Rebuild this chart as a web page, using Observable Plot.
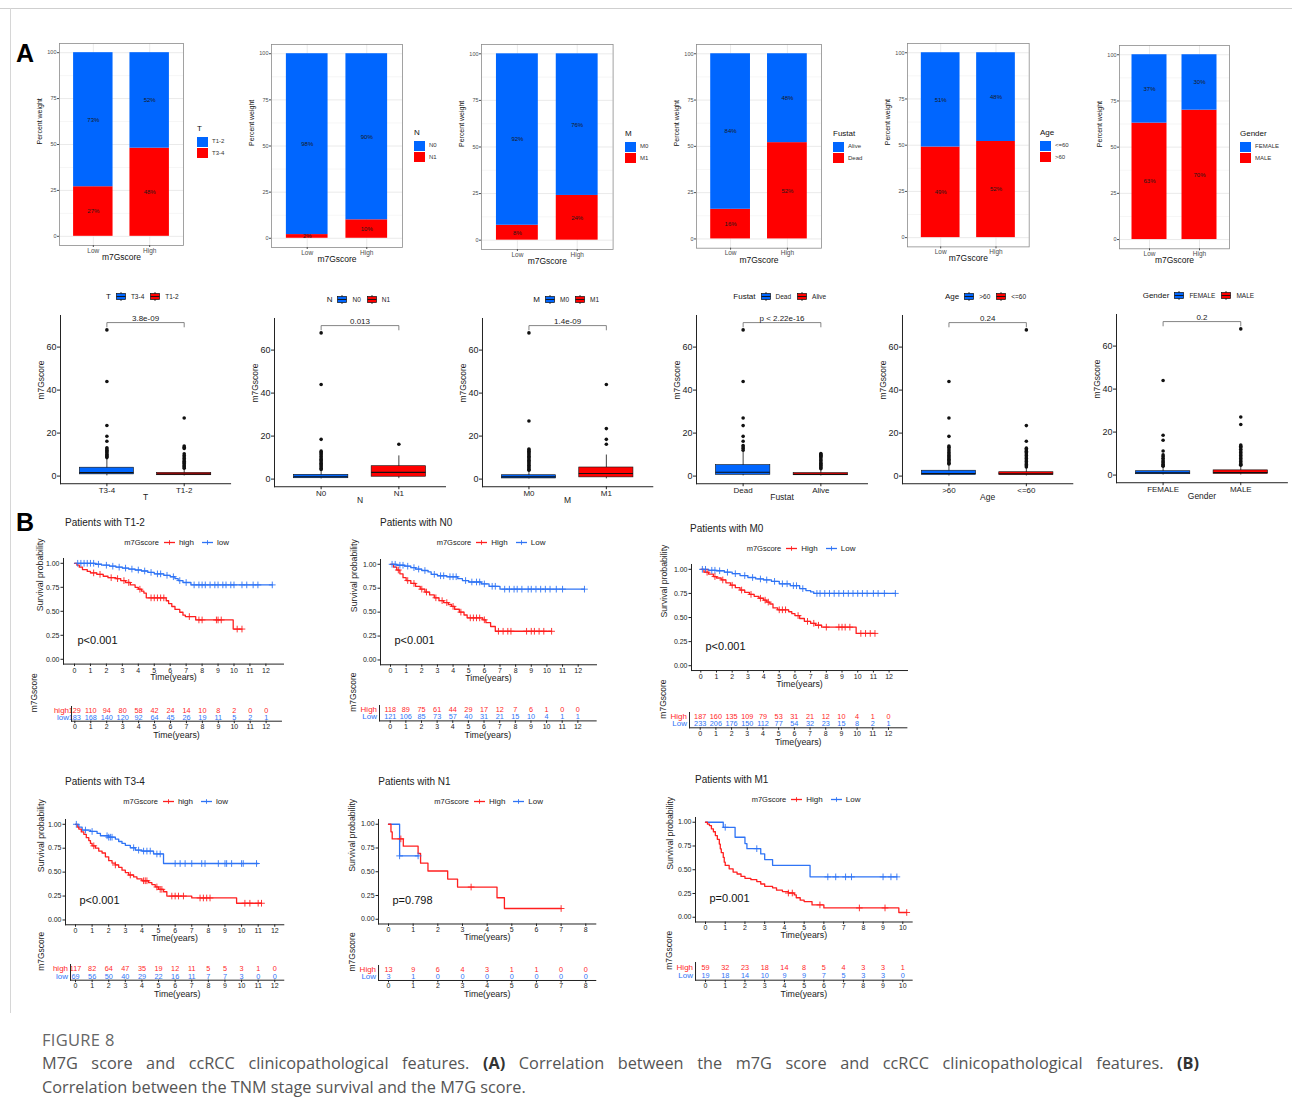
<!DOCTYPE html>
<html><head><meta charset="utf-8">
<script src="https://cdn.jsdelivr.net/npm/d3@7"></script>
<script src="https://cdn.jsdelivr.net/npm/@observablehq/plot@0.6"></script>
<style>
html,body{margin:0;padding:0;background:#fff;}
#page{position:relative;width:1292px;height:1120px;overflow:hidden;font-family:'Liberation Sans',Arial,sans-serif;color:#222;}
.abs{position:absolute;}
.abs svg{display:block;overflow:visible;}
.lg{position:absolute;display:flex;align-items:center;white-space:nowrap;height:12px;}
</style></head><body><div id="page"></div><script>
// ================= DATA =================
// Panel A, row 1: stacked percentage bars
const barGroups = ["Low", "High"];
const featNames = ["T", "N", "M", "Fustat", "Age", "Gender"];
const blueLevels = ["T1-2", "N0", "M0", "Alive", "<=60", "FEMALE"];
const redLevels = ["T3-4", "N1", "M1", "Dead", ">60", "MALE"];
const redPctLow = [27, 2, 8, 16, 49, 63];
const redPctHigh = [48, 10, 24, 52, 52, 70];
const bluePctLow = [73, 98, 92, 84, 51, 37];
const bluePctHigh = [52, 90, 76, 48, 48, 30];
const pctTicks = [0, 25, 50, 75, 100];
const pctMinor = [12.5, 37.5, 62.5, 87.5];

// Panel A, row 2: box plots of m7Gscore
const boxCats = [["T3-4", "T1-2"], ["N0", "N1"], ["M0", "M1"], ["Dead", "Alive"], [">60", "<=60"], ["FEMALE", "MALE"]];
const boxPvals = ["3.8e-09", "0.013", "1.4e-09", "p < 2.22e-16", "0.24", "0.2"];
const scoreTicks = [0, 20, 40, 60];
// [lower whisker, Q1, median, Q3, upper whisker] for [blue group, red group]
const statsT = [[0.1, 0.8, 1.6, 3.9, 8.2], [0.05, 0.4, 0.9, 1.5, 3.2]];
const statsN = [[0.05, 0.4, 1.1, 2.0, 4.2], [0.2, 1.1, 3.1, 6.0, 10.8]];
const statsM = [[0.05, 0.3, 1.0, 1.8, 3.8], [0.1, 0.8, 2.6, 5.4, 11.2]];
const statsFustat = [[0.1, 0.6, 1.8, 5.1, 11.5], [0.05, 0.4, 0.8, 1.4, 3.0]];
const statsAge = [[0.05, 0.5, 1.2, 2.5, 5.2], [0.05, 0.5, 1.0, 1.8, 3.6]];
const statsGender = [[0.05, 0.4, 1.0, 1.8, 3.8], [0.05, 0.5, 1.2, 2.2, 4.2]];
const outT = [[68, 44, 23.5, 18.5, 16.2, 13.2, 12.6, 12, 11.4, 10.8, 10.2, 9.6, 9.1, 8.6], [27, 14, 13.4, 12.8, 10.4, 9.6, 8.9, 8.2, 7.5, 6.9, 6.3, 5.8, 5.2, 4.7, 4.2, 3.7]];
const outN = [[68, 44, 18.5, 13, 12.4, 11.8, 11.2, 10.5, 9.8, 9.2, 8.6, 8, 7.4, 6.8, 6.2, 5.6, 5, 4.5], [16.2]];
const outM = [[68, 27, 14, 13.5, 13, 12.4, 11.8, 11.2, 10.6, 10, 9.4, 8.8, 8.2, 7.6, 7, 6.4, 5.8, 5.2, 4.6, 4.1], [44, 23.5, 18.5, 16.2]];
const outFustat = [[68, 44, 27, 23.5, 18.5, 16.2, 14.2, 13.5, 12.8, 12], [10.5, 10.1, 9.7, 9.2, 8.6, 7.9, 7.3, 6.6, 6, 5.4, 4.9, 4.4, 3.9, 3.4]];
const outAge = [[44, 27, 18.5, 14, 13.4, 12.6, 11.8, 11, 10.3, 9.6, 9, 8.4, 7.8, 7.2, 6.6, 6, 5.6], [68, 23.5, 16.2, 13, 12.3, 11.6, 11, 10.3, 9.6, 8.9, 8.2, 7.5, 6.8, 6.1, 5.4, 4.8, 4.2]];
const outGender = [[44, 18.5, 16.2, 11.2, 9.4, 8.6, 7.8, 7, 6.3, 5.7, 5.1, 4.5, 4.1], [68, 27, 23.5, 14, 13.4, 12.8, 12, 11.2, 10.5, 9.8, 9.1, 8.4, 7.7, 7, 6.3, 5.6, 5, 4.6]];
const boxStats = [statsT, statsN, statsM, statsFustat, statsAge, statsGender];
const boxOut = [outT, outN, outM, outFustat, outAge, outGender];

// Panel B: Kaplan-Meier curves, [time (years), survival] step points
const kmTitles = ["Patients with T1-2", "Patients with N0", "Patients with M0", "Patients with T3-4", "Patients with N1", "Patients with M1"];
const kmGroups = [["high", "low"], ["High", "Low"], ["High", "Low"], ["high", "low"], ["High", "Low"], ["High", "Low"]];
const kmPvals = ["p<0.001", "p<0.001", "p<0.001", "p<0.001", "p=0.798", "p=0.001"];
const kmTickMax = [12, 12, 12, 12, 8, 10];
const survTicks = [0, 0.25, 0.5, 0.75, 1];

const kmT12High = [[0,1],[0.15,0.98],[0.3,0.96],[0.5,0.935],[0.8,0.915],[1.0,0.9],[1.4,0.885],[1.8,0.865],[2.1,0.85],[2.6,0.84],[2.9,0.82],[3.2,0.80],[3.5,0.775],[3.8,0.75],[4.0,0.73],[4.2,0.71],[4.35,0.69],[4.5,0.64],[5.75,0.61],[5.9,0.58],[6.1,0.55],[6.3,0.52],[6.6,0.49],[6.8,0.46],[6.95,0.445],[7.6,0.41],[9.95,0.315],[10.5,0.315]];
const kmT12Low = [[0,1],[1.3,0.99],[1.7,0.98],[2.2,0.97],[2.6,0.96],[3.0,0.95],[3.4,0.94],[3.8,0.93],[4.2,0.92],[4.6,0.905],[5.0,0.89],[5.6,0.875],[6.0,0.86],[6.3,0.84],[6.5,0.82],[6.8,0.8],[7.3,0.775],[12.4,0.775]];
const cenT12High = [1.2,1.6,2.3,2.7,3.1,3.4,4.1,4.8,5.0,5.2,5.4,5.6,7.2,7.8,8.0,8.9,9.0,9.2,10.2,10.5];
const cenT12Low = [0.2,0.4,0.6,0.8,1.0,1.2,1.5,2.0,2.4,2.8,3.2,3.6,4.0,4.4,4.8,5.2,5.4,5.8,6.2,6.6,7.0,7.5,7.8,8.0,8.2,8.5,8.8,9.0,9.3,9.5,9.8,10.0,10.5,10.8,11.2,11.5,12.4];

const kmN0High = [[0,1],[0.2,0.97],[0.4,0.94],[0.6,0.90],[0.8,0.86],[1.0,0.83],[1.3,0.8],[1.6,0.77],[1.9,0.74],[2.2,0.71],[2.5,0.68],[2.8,0.65],[3.1,0.62],[3.4,0.6],[3.7,0.58],[3.9,0.56],[4.1,0.53],[4.4,0.5],[4.7,0.47],[4.9,0.44],[5.9,0.42],[6.1,0.39],[6.4,0.35],[6.7,0.30],[10.3,0.30]];
const kmN0Low = [[0,1],[0.4,0.99],[0.9,0.98],[1.3,0.965],[1.6,0.95],[2.0,0.935],[2.4,0.92],[2.6,0.895],[3.0,0.88],[3.6,0.87],[4.3,0.85],[4.6,0.83],[5.0,0.815],[5.8,0.795],[6.3,0.77],[7.0,0.74],[12.4,0.74]];
const cenN0High = [0.5,1.1,1.5,2.0,2.3,2.9,3.3,3.6,4.0,4.5,5.1,5.3,5.5,5.7,6.0,6.9,7.2,7.5,7.7,8.7,9.0,9.2,9.5,9.8,10.3];
const cenN0Low = [0.1,0.3,0.6,0.8,1.1,1.5,1.8,2.2,2.8,3.2,3.4,3.8,4.0,4.2,4.8,5.2,5.5,5.7,6.0,6.5,6.7,7.3,7.6,7.9,8.1,8.4,8.8,9.0,9.3,9.6,9.9,10.2,10.6,11.0,12.4];

const kmM0High = [[0,1],[0.2,0.97],[0.5,0.95],[0.8,0.925],[1.0,0.91],[1.3,0.89],[1.6,0.86],[1.9,0.835],[2.2,0.81],[2.5,0.785],[2.8,0.76],[3.1,0.74],[3.4,0.72],[3.7,0.70],[4.0,0.68],[4.2,0.66],[4.4,0.64],[4.6,0.60],[4.9,0.58],[5.6,0.56],[5.8,0.54],[6.0,0.52],[6.3,0.49],[6.6,0.46],[7.0,0.44],[7.3,0.42],[7.7,0.40],[9.9,0.335],[11.1,0.335]];
const kmM0Low = [[0,1],[0.5,0.99],[1.0,0.985],[1.5,0.97],[2.0,0.955],[2.5,0.935],[3.0,0.915],[3.5,0.9],[4.0,0.89],[4.5,0.875],[5.0,0.85],[5.7,0.83],[6.3,0.8],[6.7,0.78],[7.0,0.765],[7.2,0.75],[12.4,0.75]];
const cenM0High = [0.4,0.9,1.4,2.0,2.6,3.2,3.8,4.1,4.3,5.0,5.2,5.4,6.2,6.8,7.2,7.5,8.0,8.8,9.0,9.2,9.5,10.2,10.5,10.8,11.1];
const cenM0Low = [0.1,0.3,0.7,0.9,1.2,1.7,2.2,2.8,3.3,3.8,4.2,4.7,5.2,5.5,5.9,6.1,6.5,7.4,7.6,7.9,8.2,8.5,8.8,9.1,9.4,9.7,10.0,10.3,10.6,11.0,11.3,11.7,12.4];

const kmT34High = [[0,1],[0.1,0.97],[0.2,0.95],[0.35,0.92],[0.5,0.895],[0.65,0.86],[0.8,0.83],[0.9,0.8],[1.0,0.775],[1.2,0.75],[1.4,0.72],[1.6,0.70],[1.8,0.66],[2.0,0.62],[2.2,0.595],[2.4,0.575],[2.6,0.55],[2.8,0.52],[3.0,0.495],[3.2,0.47],[3.5,0.45],[3.7,0.43],[4.0,0.41],[4.4,0.39],[4.6,0.37],[4.8,0.345],[5.0,0.32],[5.3,0.295],[5.5,0.25],[7.0,0.23],[9.7,0.175],[11.2,0.175]];
const kmT34Low = [[0,1],[0.2,0.97],[0.4,0.94],[0.9,0.925],[1.3,0.905],[1.5,0.88],[2.0,0.865],[2.4,0.845],[2.6,0.82],[2.8,0.80],[3.0,0.78],[3.3,0.755],[3.6,0.73],[4.0,0.72],[4.7,0.69],[5.3,0.59],[11.0,0.59]];
const cenT34High = [1.1,2.4,3.3,4.1,4.2,4.3,4.9,5.1,5.2,5.8,6.0,6.2,6.5,7.5,7.7,7.9,8.1,10.2,10.5,11.0,11.2];
const cenT34Low = [0.05,0.6,1.0,1.9,2.0,2.1,2.2,3.5,3.8,4.1,4.3,4.5,4.9,5.1,6.0,6.3,6.6,7.0,7.6,7.8,8.6,9.0,9.1,9.4,10.0,10.1,10.9];

const kmN1High = [[0,1],[0.1,0.92],[0.15,0.846],[0.6,0.769],[1.2,0.692],[1.3,0.59],[1.6,0.508],[2.4,0.423],[2.8,0.339],[4.4,0.226],[4.7,0.113],[7.0,0.113]];
const kmN1Low = [[0,1],[0.45,0.667],[1.2,0.667]];
const cenN1High = [0.5,3.35,7.0];
const cenN1Low = [0.45,1.2];

const kmM1High = [[0,1],[0.1,0.98],[0.2,0.965],[0.3,0.93],[0.4,0.9],[0.5,0.86],[0.6,0.82],[0.7,0.77],[0.75,0.72],[0.8,0.68],[0.9,0.63],[0.95,0.58],[1.0,0.545],[1.2,0.51],[1.4,0.475],[1.6,0.455],[1.8,0.43],[2.0,0.41],[2.3,0.395],[2.6,0.375],[2.8,0.35],[3.0,0.325],[3.4,0.31],[3.6,0.285],[3.9,0.27],[4.2,0.255],[4.5,0.235],[4.6,0.205],[4.8,0.18],[5.0,0.165],[5.4,0.13],[6.0,0.098],[9.8,0.05],[10.2,0.05]];
const kmM1Low = [[0,1],[0.9,0.947],[1.5,0.842],[2.0,0.776],[2.1,0.722],[2.8,0.667],[3.0,0.607],[3.4,0.546],[5.3,0.425],[9.7,0.425]];
const cenM1High = [4.2,4.4,5.8,7.8,9.1,10.2];
const cenM1Low = [1.0,2.6,6.2,6.6,7.1,7.4,9.0,9.4,9.7];

const kmHigh = [kmT12High, kmN0High, kmM0High, kmT34High, kmN1High, kmM1High];
const kmLow = [kmT12Low, kmN0Low, kmM0Low, kmT34Low, kmN1Low, kmM1Low];
const cenHigh = [cenT12High, cenN0High, cenM0High, cenT34High, cenN1High, cenM1High];
const cenLow = [cenT12Low, cenN0Low, cenM0Low, cenT34Low, cenN1Low, cenM1Low];

// numbers at risk (t = 0, 1, 2, ...)
const riskT12High = [129,110,94,80,58,42,24,14,10,8,2,0,0];
const riskT12Low = [183,168,140,120,92,64,45,26,19,11,5,2,1];
const riskN0High = [118,89,75,61,44,29,17,12,7,6,1,0,0];
const riskN0Low = [121,106,85,73,57,40,31,21,15,10,4,1,1];
const riskM0High = [187,160,135,109,79,53,31,21,12,10,4,1,0];
const riskM0Low = [233,206,176,150,112,77,54,32,23,15,8,2,1];
const riskT34High = [117,82,64,47,35,19,12,11,5,5,3,1,0];
const riskT34Low = [69,56,50,40,29,22,16,11,7,7,3,0,0];
const riskN1High = [13,9,6,4,3,1,1,0,0];
const riskN1Low = [3,1,0,0,0,0,0,0,0];
const riskM1High = [59,32,23,18,14,8,5,4,3,3,1];
const riskM1Low = [19,18,14,10,9,9,7,5,3,3,0];
const riskHigh = [riskT12High, riskN0High, riskM0High, riskT34High, riskN1High, riskM1High];
const riskLow = [riskT12Low, riskN0Low, riskM0Low, riskT34Low, riskN1Low, riskM1Low];

// ================= STYLE / LAYOUT =================
const RED = "#ff0000", BLUE = "#0066ff";
const KRED = "#ff1f1f", KBLUE = "#2f74f5";
const FONT = "'Liberation Sans', Arial, sans-serif";
const page = document.getElementById("page");

const barLay = [
  {L:59, R:183, T:43, B:245, lx:197, ly:129},
  {L:271, R:402, T:44, B:247, lx:414, ly:133},
  {L:481, R:612.6, T:44, B:249, lx:625, ly:134},
  {L:696, R:821, T:44, B:247.7, lx:833, ly:134},
  {L:906.8, R:1028.5, T:43.3, B:246.7, lx:1040, ly:133},
  {L:1118.6, R:1228.6, T:45, B:248.3, lx:1240, ly:134}
];
const boxLay = [
  {L:59.6, R:229.7, y0:475.7, gx:106, gy:296},
  {L:274, R:445, y0:479, gx:326.7, gy:299},
  {L:481.9, R:652.2, y0:479, gx:533.3, gy:299},
  {L:696, R:867, y0:476, gx:733.3, gy:296},
  {L:901.9, R:1072.2, y0:476, gx:945, gy:296},
  {L:1115.7, R:1286.6, y0:475, gx:1142.7, gy:295}
];
const kmLay = [
  {px0:74.3, pxT:265.7, L:63.3, R:283.3, y1:563, y0:659, tl:71, tr:281, rHigh:710, rLow:716.7, rAxis:720.7, tx:65, ty:523.3, lgx:124.3, lgy:542.3, survX:40, tabX:33.3},
  {px0:390, pxT:577.7, L:380, R:596, y1:563.3, y0:659, tl:379.3, tr:596, rHigh:709.3, rLow:716.7, rAxis:720.7, tx:380, ty:523.3, lgx:436.7, lgy:542, survX:353.3, tabX:353.3},
  {px0:700, pxT:888.3, L:690.7, R:906.7, y1:569.3, y0:665.7, tl:689.3, tr:906.7, rHigh:716, rLow:723.3, rAxis:727.3, tx:690, ty:529, lgx:746.7, lgy:548, survX:663.3, tabX:663.3},
  {px0:75, pxT:274.3, L:65, R:283.3, y1:823.3, y0:919, tl:70, tr:283.3, rHigh:968.3, rLow:976, rAxis:980, tx:65, ty:782.3, lgx:123.3, lgy:801.7, survX:40.7, tabX:40.7},
  {px0:387.7, pxT:585, L:377.7, R:595, y1:823.3, y0:918.3, tl:377.7, tr:595, rHigh:969, rLow:976, rAxis:980, tx:378.3, ty:782.3, lgx:434.3, lgy:801.7, survX:351.7, tabX:351.7},
  {px0:705, pxT:902.3, L:695, R:911.7, y1:821.7, y0:916.7, tl:695, tr:911.7, rHigh:967.3, rLow:975, rAxis:980, tx:695, ty:780, lgx:751.7, lgy:799.3, survX:669.3, tabX:668.3}
];

function mount(svg, left, top) {
  const d = document.createElement("div");
  d.className = "abs";
  d.style.left = left + "px"; d.style.top = top + "px";
  d.style.width = svg.getAttribute("width") + "px";
  d.appendChild(svg); page.appendChild(d);
}
function txt(s, left, yc, fs, extra = {}) {
  const d = document.createElement("div");
  d.className = "abs"; d.textContent = s;
  Object.assign(d.style, {left: left + "px", top: (yc - fs * 0.6) + "px", fontSize: fs + "px", lineHeight: (fs * 1.2) + "px", whiteSpace: "nowrap"}, extra);
  page.appendChild(d); return d;
}
const st = (extra) => Object.assign({fontFamily: FONT, background: "transparent", overflow: "visible", color: "#222"}, extra || {});

// ================= PANEL A: BARS =================
barLay.forEach((lay, i) => {
  const data = [
    {g: "Low", c: "r", pct: redPctLow[i]}, {g: "High", c: "r", pct: redPctHigh[i]},
    {g: "Low", c: "b", pct: bluePctLow[i]}, {g: "High", c: "b", pct: bluePctHigh[i]}
  ];
  const mL = 40, mR = 4, mT = 4, mB = 26;
  const svg = Plot.plot({
    width: lay.R - lay.L + mL + mR, height: lay.B - lay.T + mT + mB,
    marginLeft: mL, marginRight: mR, marginTop: mT, marginBottom: mB,
    style: st({color: "#4d4d4d"}),
    x: {type: "band", domain: barGroups, paddingInner: 0.3, paddingOuter: 0.25, round: false},
    y: {domain: [-5, 105]},
    color: {type: "identity"},
    marks: [
      Plot.ruleY(pctMinor, {stroke: "#ededed", strokeWidth: 0.5}),
      Plot.ruleY(pctTicks, {stroke: "#e8e8e8", strokeWidth: 0.9}),
      Plot.ruleX(barGroups, {stroke: "#e8e8e8", strokeWidth: 0.9}),
      Plot.barY(data, {x: "g", y: "pct", z: "c", fill: d => d.c === "r" ? RED : BLUE}),
      Plot.text(data, Plot.stackY({x: "g", y: "pct", z: "c", text: d => d.pct + "%", fontSize: 6, fill: "#1a1a1a"})),
      Plot.frame({stroke: "#8c8c8c", strokeWidth: 0.8}),
      Plot.axisY(pctTicks, {tickSize: 2, tickPadding: 1, fontSize: 5.5, label: null}),
      Plot.axisX({tickSize: 2, tickPadding: 0.5, fontSize: 6.5, label: null}),
      Plot.text(["Percent weight"], {frameAnchor: "left", rotate: -90, dx: -20, fontSize: 7, fill: "#111", text: d => d}),
      Plot.text(["m7Gscore"], {frameAnchor: "bottom", dy: 14.5, fontSize: 8.5, fill: "#111", text: d => d})
    ]
  });
  mount(svg, lay.L - mL, lay.T - mT);
  // legend
  txt(featNames[i], lay.lx, lay.ly, 8, {color: "#111"});
  [[BLUE, blueLevels[i]], [RED, redLevels[i]]].forEach(([c, lab], j) => {
    const k = document.createElement("div");
    k.className = "abs";
    Object.assign(k.style, {left: lay.lx + "px", top: (lay.ly + 8 + j * 11.3) + "px", width: "11px", height: "10px", background: c});
    page.appendChild(k);
    txt(lab, lay.lx + 15, lay.ly + 13 + j * 11.3, 6, {color: "#333"});
  });
});

// ================= PANEL A: BOXES =================
function boxKey(color) {
  return `<svg width="10" height="9" style="display:block"><line x1="5" y1="0" x2="5" y2="9" stroke="#111" stroke-width="0.8"/><rect x="0.5" y="1.5" width="9" height="6" fill="${color}" stroke="#111" stroke-width="0.7"/><line x1="0.5" y1="4.5" x2="9.5" y2="4.5" stroke="#111" stroke-width="0.9"/></svg>`;
}
boxLay.forEach((lay, i) => {
  const cats = boxCats[i];
  const rows = cats.map((c, j) => ({cat: c, lo: boxStats[i][j][0], q1: boxStats[i][j][1], med: boxStats[i][j][2], q3: boxStats[i][j][3], hi: boxStats[i][j][4], col: j === 0 ? BLUE : RED}));
  const outs = [];
  boxOut[i].forEach((arr, j) => arr.forEach(v => outs.push({cat: cats[j], v})));
  const allMax = d3.max(boxOut.flat(2));
  const yBr = allMax * 1.05, yTip = yBr - 2;
  const bracket = [{cat: cats[0], v: yTip}, {cat: cats[0], v: yBr}, {cat: cats[1], v: yBr}, {cat: cats[1], v: yTip}];
  const k = 2.15, yDom = [-3.55, 74.7];
  const top = lay.y0 - yDom[1] * k, bottom = lay.y0 - yDom[0] * k;
  const mL = 40, mR = 6, mT = 6, mB = 24;
  const svg = Plot.plot({
    width: lay.R - lay.L + mL + mR, height: bottom - top + mT + mB,
    marginLeft: mL, marginRight: mR, marginTop: mT, marginBottom: mB,
    style: st(),
    x: {type: "band", domain: cats, paddingInner: 0.3, paddingOuter: 0.25, round: false},
    y: {domain: yDom},
    color: {type: "identity"},
    marks: [
      Plot.ruleX(rows, {x: "cat", y1: "lo", y2: "hi", stroke: "#111", strokeWidth: 0.8}),
      Plot.barY(rows, {x: "cat", y1: "q1", y2: "q3", fill: "col", stroke: "#111", strokeWidth: 0.6}),
      Plot.tickY(rows, {x: "cat", y: "med", stroke: "#111", strokeWidth: 1.2}),
      Plot.dot(outs, {x: "cat", y: "v", r: 1.8, fill: "#111"}),
      Plot.line(bracket, {x: "cat", y: "v", stroke: "#666", strokeWidth: 0.8}),
      Plot.text([boxPvals[i]], {frameAnchor: "middle", y: () => yBr, dy: -4.5, fontSize: 8, fill: "#222", text: d => d}),
      Plot.frame({anchor: "left", stroke: "#222", strokeWidth: 1}),
      Plot.frame({anchor: "bottom", stroke: "#222", strokeWidth: 1}),
      Plot.axisY(scoreTicks, {tickSize: 3, tickPadding: 1, fontSize: 9, label: null}),
      Plot.axisX({tickSize: 3, tickPadding: 0.5, fontSize: 8, label: null}),
      Plot.text([featNames[i]], {frameAnchor: "bottom", dy: 16.7, fontSize: 8.5, fill: "#222", text: d => d}),
      Plot.text(["m7Gscore"], {frameAnchor: "left", rotate: -90, dx: -19.5, fontSize: 8.5, fill: "#222", text: d => d})
    ]
  });
  mount(svg, lay.L - mL, top - mT);
  // legend
  const lg = document.createElement("div");
  lg.className = "lg";
  lg.style.left = lay.gx + "px"; lg.style.top = (lay.gy - 6) + "px";
  lg.innerHTML = `<span style="font-size:8px;color:#111">${featNames[i]}</span>` +
    `<span style="margin-left:5px">${boxKey(BLUE)}</span><span style="margin-left:5px;font-size:6.5px;color:#222">${cats[0].replace("<", "&lt;").replace(">", "&gt;")}</span>` +
    `<span style="margin-left:6px">${boxKey(RED)}</span><span style="margin-left:5px;font-size:6.5px;color:#222">${cats[1].replace("<", "&lt;").replace(">", "&gt;")}</span>`;
  page.appendChild(lg);
});

// ================= PANEL B: KM =================
function stepAt(pts, t) { let s = pts[0][1]; for (const p of pts) if (p[0] <= t) s = p[1]; return s; }
function kmSwatch(c) {
  return `<svg width="11" height="7" style="display:block"><line x1="0" y1="3.5" x2="11" y2="3.5" stroke="${c}" stroke-width="1.3"/><path d="M5.5 1.2V5.8M3.2 3.5H7.8" stroke="${c}" stroke-width="0.9"/></svg>`;
}
kmLay.forEach((lay, k) => {
  const tmax = kmTickMax[k];
  const pxYr = (lay.pxT - lay.px0) / tmax;
  const xTicks = d3.range(0, tmax + 1);
  // survival plot
  const xDom = [(lay.L - lay.px0) / pxYr, (lay.R - lay.px0) / pxYr];
  const H = lay.y0 - lay.y1;
  const top = lay.y1 - 0.05 * H, bottom = lay.y0 + 0.05 * H;
  const mL = 34, mR = 8, mT = 4, mB = 26;
  const hi = kmHigh[k], lo = kmLow[k];
  const svg = Plot.plot({
    width: lay.R - lay.L + mL + mR, height: bottom - top + mT + mB,
    marginLeft: mL, marginRight: mR, marginTop: mT, marginBottom: mB,
    style: st(),
    x: {domain: xDom}, y: {domain: [-0.05, 1.05]},
    marks: [
      Plot.line(lo, {x: d => d[0], y: d => d[1], curve: "step-after", stroke: KBLUE, strokeWidth: 1.3}),
      Plot.line(hi, {x: d => d[0], y: d => d[1], curve: "step-after", stroke: KRED, strokeWidth: 1.3}),
      Plot.dot(cenLow[k].map(t => [t, stepAt(lo, t)]), {x: d => d[0], y: d => d[1], symbol: "plus", r: 2.3, stroke: KBLUE, strokeWidth: 0.9}),
      Plot.dot(cenHigh[k].map(t => [t, stepAt(hi, t)]), {x: d => d[0], y: d => d[1], symbol: "plus", r: 2.3, stroke: KRED, strokeWidth: 0.9}),
      Plot.frame({anchor: "left", stroke: "#222", strokeWidth: 1}),
      Plot.frame({anchor: "bottom", stroke: "#222", strokeWidth: 1}),
      Plot.axisY(survTicks, {tickFormat: d3.format(".2f"), tickSize: 2.5, tickPadding: 1.5, fontSize: 7, label: null}),
      Plot.axisX(xTicks, {tickSize: 2.5, tickPadding: 1, fontSize: 7, label: null}),
      Plot.text(["Survival probability"], {frameAnchor: "left", rotate: -90, dx: lay.survX - lay.L, fontSize: 8.7, fill: "#222", text: d => d}),
      Plot.text(["Time(years)"], {frameAnchor: "bottom", dy: 16.3, fontSize: 8.8, fill: "#222", text: d => d}),
      Plot.text([kmPvals[k]], {frameAnchor: "left", y: () => 0.2, dx: 14, textAnchor: "start", fontSize: 11, fill: "#111", text: d => d})
    ]
  });
  mount(svg, lay.L - mL, top - mT);

  // risk table
  const tDom = [(lay.tl - lay.px0) / pxYr, (lay.tr - lay.px0) / pxYr];
  const step = lay.rLow - lay.rHigh, pad = (lay.rAxis - lay.rLow) / step;
  const tTop = lay.rHigh - pad * step, tBottom = lay.rAxis;
  const g = kmGroups[k];
  const tmL = 46, tmR = 8, tmT = 3, tmB = 24;
  const rowsHi = riskHigh[k].map((n, j) => ({t: j, g: g[0], n}));
  const rowsLo = riskLow[k].map((n, j) => ({t: j, g: g[1], n}));
  const tsvg = Plot.plot({
    width: lay.tr - lay.tl + tmL + tmR, height: tBottom - tTop + tmT + tmB,
    marginLeft: tmL, marginRight: tmR, marginTop: tmT, marginBottom: tmB,
    style: st(),
    x: {domain: tDom},
    y: {type: "point", domain: g, padding: pad, round: false, axis: null},
    marks: [
      Plot.text(rowsHi, {x: "t", y: "g", text: "n", fill: KRED, fontSize: 7.3}),
      Plot.text(rowsLo, {x: "t", y: "g", text: "n", fill: KBLUE, fontSize: 7.3}),
      Plot.text([g[0]], {y: d => d, text: d => d, frameAnchor: "left", textAnchor: "end", dx: -2.5, fill: KRED, fontSize: 8}),
      Plot.text([g[1]], {y: d => d, text: d => d, frameAnchor: "left", textAnchor: "end", dx: -2.5, fill: KBLUE, fontSize: 8}),
      Plot.frame({anchor: "left", stroke: "#222", strokeWidth: 1}),
      Plot.frame({anchor: "bottom", stroke: "#222", strokeWidth: 1}),
      Plot.axisX(xTicks, {tickSize: 2.5, tickPadding: 0.5, fontSize: 7, label: null}),
      Plot.text(["Time(years)"], {frameAnchor: "bottom", dy: 17, fontSize: 8.8, fill: "#222", text: d => d}),
      Plot.text(["m7Gscore"], {frameAnchor: "left", rotate: -90, dx: lay.tabX - lay.tl, dy: -1.5, fontSize: 8.5, fill: "#222", text: d => d})
    ]
  });
  mount(tsvg, lay.tl - tmL, tTop - tmT);

  // title & legend
  txt(kmTitles[k], lay.tx, lay.ty, 10, {color: "#222"});
  const lg = document.createElement("div");
  lg.className = "lg";
  lg.style.left = lay.lgx + "px"; lg.style.top = (lay.lgy - 6) + "px";
  lg.innerHTML = `<span style="font-size:7.5px;color:#222">m7Gscore</span>` +
    `<span style="margin-left:5px">${kmSwatch(KRED)}</span><span style="margin-left:4px;font-size:8px;color:#222">${g[0]}</span>` +
    `<span style="margin-left:8px">${kmSwatch(KBLUE)}</span><span style="margin-left:4px;font-size:8px;color:#222">${g[1]}</span>`;
  page.appendChild(lg);
});

// ================= LABELS, BORDERS, CAPTION =================
txt("A", 16, 53, 25, {fontWeight: "bold", color: "#000"});
txt("B", 16, 522, 25, {fontWeight: "bold", color: "#000"});
const hl = document.createElement("div"); hl.className = "abs";
Object.assign(hl.style, {left: "0px", top: "8px", width: "1292px", height: "1px", background: "#cfcfcf"});
page.appendChild(hl);
const vl = document.createElement("div"); vl.className = "abs";
Object.assign(vl.style, {left: "10px", top: "8px", width: "1px", height: "1005px", background: "#d6d6d6"});
page.appendChild(vl);

txt("FIGURE 8", 42, 1040, 16.5, {color: "#666", fontFamily: "'Open Sans', sans-serif", letterSpacing: "0.3px"});
const c1 = document.createElement("div"); c1.className = "abs";
Object.assign(c1.style, {left: "42px", top: "1052px", width: "1157px", fontSize: "16.3px", lineHeight: "22px", color: "#555", fontFamily: "'Open Sans', sans-serif", textAlign: "justify", textAlignLast: "justify"});
c1.innerHTML = 'M7G score and ccRCC clinicopathological features. <b style="color:#333">(A)</b> Correlation between the m7G score and ccRCC clinicopathological features. <b style="color:#333">(B)</b>';
page.appendChild(c1);
const c2 = document.createElement("div"); c2.className = "abs";
Object.assign(c2.style, {left: "42px", top: "1076px", fontSize: "16.3px", lineHeight: "22px", color: "#555", fontFamily: "'Open Sans', sans-serif", whiteSpace: "nowrap"});
c2.textContent = "Correlation between the TNM stage survival and the M7G score.";
page.appendChild(c2);
</script></body></html>
